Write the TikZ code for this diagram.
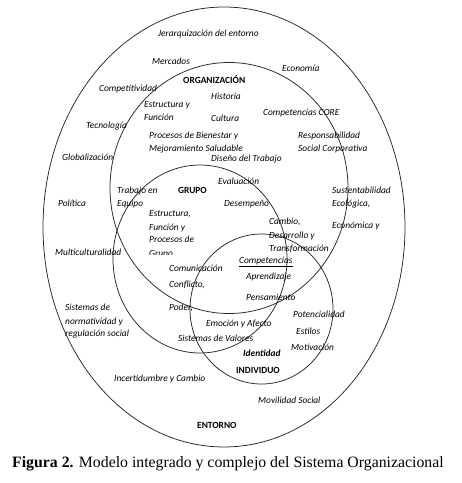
\documentclass[tikz,border=0pt]{standalone}
\usepackage{fontspec}
\usetikzlibrary{shapes.geometric}
\newfontfamily\labfont{Carlito}
\newfontfamily\capfont{Liberation Serif}
\tikzset{
  ring/.style={draw=black!85, line width=0.75pt, ellipse, inner sep=0pt, outer sep=0pt},
  lbl/.style={font=\labfont\fontsize{9.4}{10}\selectfont\itshape, anchor=base west, inner sep=0pt},
  ttl/.style={font=\labfont\fontsize{9.4}{10}\selectfont\bfseries, anchor=base west, inner sep=0pt},
  captext/.style={font=\capfont\fontsize{15.8}{17}\selectfont, anchor=base west, inner sep=0pt}
}
\begin{document}
\begin{tikzpicture}[x=1pt,y=-1pt]
\useasboundingbox[fill=white] (0,0) rectangle (462,483);
% rings
\node[ring, minimum width=362pt, minimum height=440pt] (ent) at (224,227) {};
\node[ring, minimum width=238pt, minimum height=251pt] (org) at (229,188) {};
\node[ring, minimum width=174pt, minimum height=188pt] (gru) at (200,259) {};
\node[ring, minimum width=143pt, minimum height=150pt] (ind) at (261.5,309) {};
% entorno
\node[lbl] (t1) at (158,36) {Jerarquización del entorno};
\node[lbl] (t2) at (152,64) {Mercados};
\node[lbl] (t3) at (282,71) {Economía};
\node[lbl] (t4) at (99,91) {Competitividad};
\node[lbl] (t5) at (86,128) {Tecnología};
\node[lbl] (t6) at (62,160) {Globalización};
\node[lbl] (t7) at (58,206) {Política};
\node[lbl] (t8) at (55,255) {Multiculturalidad};
\node[lbl] (t9a) at (65,310) {Sistemas de};
\node[lbl] (t9b) at (65,324) {normatividad y};
\node[lbl] (t9c) at (65,336) {regulación social};
\node[lbl] (t10) at (114,381) {Incertidumbre y Cambio};
\node[lbl] (t11) at (258,403) {Movilidad Social};
\node[ttl] (t12) at (197,428) {ENTORNO};
\node[lbl] (t13a) at (332,193) {Sustentabilidad};
\node[lbl] (t13b) at (332,206) {Ecológica,};
\node[lbl] (t13c) at (332,228) {Económica y};
% organizacion
\node[ttl] (o1) at (183,83) {ORGANIZACIÓN};
\node[lbl] (o2) at (211,99) {Historia};
\node[lbl] (o3a) at (144,107) {Estructura y};
\node[lbl] (o3b) at (144,120) {Función};
\node[lbl] (o4) at (211,121) {Cultura};
\node[lbl] (o5) at (263,115) {Competencias CORE};
\node[lbl] (o6a) at (149,138) {Procesos de Bienestar y};
\node[lbl] (o6b) at (149,151) {Mejoramiento Saludable};
\node[lbl] (o7a) at (298,138) {Responsabilidad};
\node[lbl] (o7b) at (298,151) {Social Corporativa};
\node[lbl] (o8) at (211,161) {Diseño del Trabajo};
\node[lbl] (o9a) at (269,224) {Cambio,};
\node[lbl] (o9b) at (269,238) {Desarrollo y};
\node[lbl] (o9c) at (269,251) {Transformación};
% grupo
\node[lbl] (g1) at (218,184) {Evaluación};
\node[lbl] (g2a) at (117,193) {Trabajo en};
\node[lbl] (g2b) at (117,206) {Equipo};
\node[ttl] (g3) at (178,193) {GRUPO};
\node[lbl] (g4) at (224,206) {Desempeño};
\node[lbl] (g5a) at (149,216) {Estructura,};
\node[lbl] (g5b) at (149,230) {Función y};
\node[lbl] (g5c) at (149,242) {Procesos de};
\begin{scope}
\clip (140,244) rectangle (200,254.5);
\node[lbl] (g5d) at (149,256) {Grupo};
\end{scope}
\node[lbl] (g6) at (169,271) {Comunicación};
\node[lbl] (g7) at (169,287) {Conflicto,};
\node[lbl] (g8) at (169,310) {Poder,};
\node[lbl] (g9) at (206,326) {Emoción y Afecto};
\node[lbl] (g10) at (178,341) {Sistemas de Valores};
% individuo
\node[lbl] (i1) at (239,263) {\underline{Competencias}};
\node[lbl] (i2) at (246,279) {Aprendizaje};
\node[lbl] (i3) at (246,300) {Pensamiento};
\node[lbl] (i4) at (293,317) {Potencialidad};
\node[lbl] (i5) at (296,334) {Estilos};
\node[lbl] (i6) at (291,350) {Motivación};
\node[lbl, font=\labfont\fontsize{9.4}{10}\selectfont\bfseries\itshape] (i7) at (243,356) {Identidad};
\node[ttl] (i8) at (236,373) {INDIVIDUO};
% caption
\node[captext] (capt) at (12,467) {\textbf{Figura 2.} Modelo integrado y complejo del Sistema Organizacional};
\end{tikzpicture}
\end{document}
